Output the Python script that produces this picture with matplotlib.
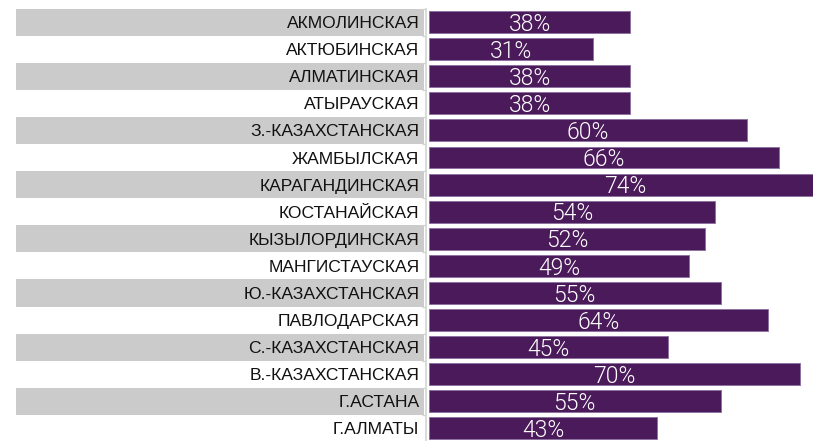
import numpy as np
import matplotlib
matplotlib.use("Agg")
import matplotlib.pyplot as plt

# данные по областям
regions = ["АКМОЛИНСКАЯ", "АКТЮБИНСКАЯ", "АЛМАТИНСКАЯ", "АТЫРАУСКАЯ",
           "З.-КАЗАХСТАНСКАЯ", "ЖАМБЫЛСКАЯ", "КАРАГАНДИНСКАЯ", "КОСТАНАЙСКАЯ",
           "КЫЗЫЛОРДИНСКАЯ", "МАНГИСТАУСКАЯ", "Ю.-КАЗАХСТАНСКАЯ", "ПАВЛОДАРСКАЯ",
           "С.-КАЗАХСТАНСКАЯ", "В.-КАЗАХСТАНСКАЯ", "Г.АСТАНА", "Г.АЛМАТЫ"]
values = [38, 31, 38, 38, 60, 66, 74, 54, 52, 49, 55, 64, 45, 70, 55, 43]

W, H = 813, 441
purple = "#4b1a5a"
gray = "#cbcbcb"

fig = plt.figure(figsize=(W / 100, H / 100), dpi=100)
y = np.arange(len(regions))

# геометрия в пикселях
top_px, bot_px = 8.5, 442.0
ax_b = 1 - bot_px / H
ax_h = (bot_px - top_px) / H

# левая часть: серые полосы через строку
axl = fig.add_axes([16 / W, ax_b, (424 - 16) / W, ax_h])
stripe = [1 if i % 2 == 0 else 0 for i in y]
axl.barh(y, stripe, height=1.0, color=gray, linewidth=0)
axl.set_xlim(0, 1)
axl.set_ylim(len(regions) - 0.5, -0.5)
axl.axis("off")

# правая часть: фиолетовые столбцы
px_per_pct = 5.3
axr = fig.add_axes([429 / W, ax_b, (W - 429) / W, ax_h])
axr.barh(y, values, height=0.81, color=purple, edgecolor="#8e72a0", linewidth=0.7)
axr.set_xlim(0, (W - 429) / px_per_pct)
axr.set_ylim(len(regions) - 0.5, -0.5)
axr.patch.set_alpha(0)

for i, v in enumerate(values):
    axr.text(v / 2, i + 0.08, f"{v}%", ha="center", va="center", color="white",
             fontsize=16.5, family="Roboto", fontweight=300)

# ось с подписями
for s in ["top", "right", "bottom"]:
    axr.spines[s].set_visible(False)
axr.spines["left"].set_position(("outward", 2))
axr.spines["left"].set_color("#d4d4d4")
axr.spines["left"].set_linewidth(1.2)
axr.set_xticks([])
axr.set_yticks(y)
axr.set_yticklabels(regions, fontsize=12.6, family="Liberation Sans", color="#111111")
axr.tick_params(axis="y", which="major", length=0, pad=5)
axr.set_yticks(np.arange(len(regions) + 1) - 0.5, minor=True)
axr.tick_params(axis="y", which="minor", length=3, color="#d4d4d4", width=1)

fig.savefig("out.png", dpi=100)
